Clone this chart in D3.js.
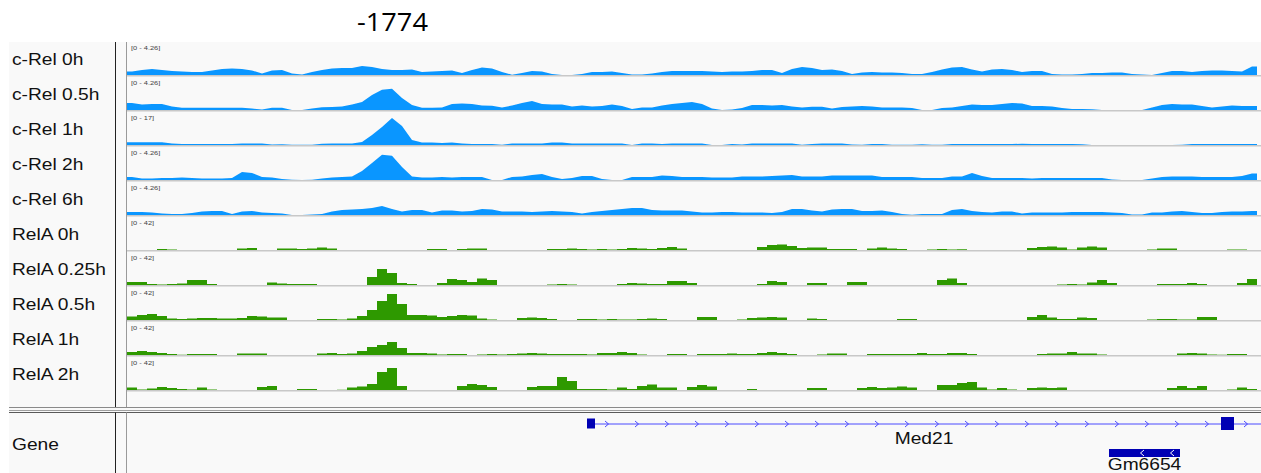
<!DOCTYPE html>
<html>
<head>
<meta charset="utf-8">
<script src="https://cdn.jsdelivr.net/npm/d3@7"></script>
<style>
  body { margin: 0; background: #fff; }
  svg { display: block; }
</style>
</head>
<body>
<div id="chart"></div>
<script>
// ---- data ----
const title = "-1774";
const trackNames = ["c-Rel 0h", "c-Rel 0.5h", "c-Rel 1h", "c-Rel 2h", "c-Rel 6h",
                    "RelA 0h", "RelA 0.25h", "RelA 0.5h", "RelA 1h", "RelA 2h"];
const trackRanges = [4.26, 4.26, 17, 4.26, 4.26, 42, 42, 42, 42, 42];
const trackFactor = ["c-Rel", "c-Rel", "c-Rel", "c-Rel", "c-Rel", "RelA", "RelA", "RelA", "RelA", "RelA"];

// coverage per genomic bin (113 bins across the view)
const cRel0h = [0.45,0.65,0.78,0.65,0.52,0.45,0.39,0.39,0.58,0.78,
  0.84,0.78,0.58,0.19,0.58,0.65,0.19,0.06,0.39,0.65,
  0.84,0.91,0.91,1.17,1.04,0.78,0.65,0.65,0.71,0.39,
  0.45,0.52,0.58,0.26,0.65,0.97,0.84,0.39,0.04,0.26,
  0.52,0.45,0.13,0,0,0.13,0.39,0.39,0.45,0.26,
  0.06,0.06,0.19,0.39,0.52,0.52,0.52,0.52,0.45,0.39,
  0.45,0.45,0.52,0.65,0.65,0.26,0.78,1.04,0.91,0.65,
  0.71,0.52,0.13,0.32,0.39,0.32,0.32,0.26,0.13,0.13,
  0.39,0.71,0.97,1.04,0.71,0.45,0.71,0.78,0.65,0.39,
  0.52,0.52,0.13,0.06,0.06,0.13,0.26,0.26,0.32,0.32,
  0.13,0.06,0,0.26,0.52,0.52,0.39,0.52,0.58,0.58,
  0.52,0.45,1.1];
const cRel05h = [0.91,0.72,0.78,0.78,0.45,0.3,0.3,0.3,0.3,0.3,
  0.3,0.3,0.2,0.06,0.3,0.3,0,0,0.2,0.35,
  0.39,0.45,0.72,1.04,1.95,2.6,2.73,1.56,0.65,0.3,
  0.3,0.32,0.78,0.85,0.78,0.58,0.56,0.32,0.58,0.91,
  1.17,0.78,0.72,0.72,0.45,0.58,0.45,0.52,0.72,0.52,
  0.13,0.32,0.32,0.58,0.78,0.91,1.04,0.78,0.2,0,
  0.06,0.26,0.65,0.65,0.58,0.65,0.45,0.32,0.43,0.43,
  0.2,0.39,0.45,0.52,0.45,0.32,0.32,0.32,0.26,0,
  0,0.26,0.32,0.52,0.72,0.65,0.65,0.78,0.91,0.85,
  0.52,0.52,0.45,0.26,0.13,0.13,0.09,0,0,0,
  0,0,0.32,0.65,0.78,0.72,0.72,0.52,0.32,0.45,
  0.58,0.52,0.52];
const cRel1h = [1.39,1.39,1.39,1.39,0.77,0.52,0.52,0.52,0.52,0.52,
  0.52,0.77,0.77,0.77,0.26,0.36,0.15,0.15,0.15,0.62,
  0.77,0.77,0.77,1.55,5.15,9.27,13.9,9.79,2.58,1.29,
  1.29,1.03,1.29,0.77,0.52,0.52,0.52,0.15,0.77,0.77,
  0.77,0.77,1.29,1.29,0.77,0.77,0.77,0.77,0.77,0.77,
  0,0.77,0.77,0.52,0.77,0.77,0.77,0.77,0,0,
  0.52,0.26,0.77,0.77,0.77,0.77,0.77,0.15,0.52,0.77,
  0.77,0.77,0.26,0.15,0.52,0.52,0.15,0.15,0.15,0.41,
  0.15,0.15,0.52,0.52,0.52,0.52,0.52,0.52,0.52,0.62,
  0.52,0.52,0.52,0.52,0.52,0.41,0,0,0,0,
  0,0,0,0,0,0.15,0.52,0.52,0.52,0.52,
  0.52,0.52,0.52];
const cRel2h = [0.39,0.2,0.2,0.26,0.26,0.32,0.26,0.2,0.2,0.2,
  0.26,1.04,0.91,0.39,0.32,0.13,0.04,0,0.04,0.2,
  0.32,0.39,0.45,1.17,2.21,3.25,3.12,1.69,0.45,0.32,
  0.32,0.39,0.32,0.39,0.39,0.39,0,0,0.39,0.45,
  0.65,0.78,0.39,0.13,0.26,0.52,0.52,0.13,0,0,
  0.39,0.39,0.39,0.58,0.52,0.39,0.39,0.39,0.32,0.32,
  0.32,0.45,0.45,0.45,0.52,0.58,0.65,0.45,0.45,0.45,
  0.58,0.58,0.58,0.58,0.58,0.39,0.39,0.39,0.39,0.26,
  0.26,0.26,0.45,0.45,0.91,0.52,0.26,0.26,0.26,0.26,
  0.2,0.26,0.26,0.26,0.26,0.26,0.26,0.26,0.06,0,
  0,0,0.2,0.39,0.45,0.45,0.45,0.39,0.39,0.39,
  0.39,0.52,0.85];
const cRel6h = [0.39,0.39,0.32,0.2,0.13,0.13,0.26,0.45,0.52,0.52,
  0.13,0.45,0.52,0.32,0.26,0.2,0,0,0.06,0.13,
  0.45,0.65,0.72,0.78,0.91,1.17,0.78,0.45,0.65,0.65,
  0.32,0.58,0.58,0.45,0.52,0.78,0.72,0.45,0.45,0.45,
  0.39,0.45,0.52,0.45,0.39,0.2,0.39,0.52,0.65,0.78,
  0.91,0.91,0.65,0.58,0.58,0.58,0.45,0.32,0.32,0.39,
  0.39,0.32,0.32,0.32,0.26,0.39,0.78,0.78,0.58,0.45,
  0.72,0.78,0.78,0.52,0.52,0.58,0.39,0.13,0.04,0.13,
  0.13,0.13,0.65,0.78,0.52,0.39,0.32,0.45,0.45,0.2,
  0.32,0.32,0.32,0.32,0.39,0.39,0.39,0.39,0.32,0.26,
  0.06,0.06,0.32,0.32,0.45,0.52,0.39,0.26,0.26,0.39,
  0.45,0.45,0.52];
const relA0h = [0,0,0,1.3,0.6,0,0,0,0,0,
  0,1.9,2.5,0,0,1.9,1.9,1.3,1.9,3.2,
  1.9,0,0,0,0,0,0,0,0,0,
  1.3,1.3,0,1.3,1.9,1.9,0,0,0,0,
  0,0,1.3,1.3,1.9,1.3,0.6,1.3,0.6,1.3,
  2.5,1.9,1.3,2.5,3.8,1.9,0,0,0,0,
  0,0,0,3.8,6.4,7,5.1,2.5,3.2,3.2,
  1.3,1.3,1.3,0,1.9,3.2,1.9,1.3,0,0,
  0.6,1.3,0.6,0.9,0,0,0,0,0,0,
  2.5,3.8,4.4,3.2,0.6,3.2,4.4,3.2,0,0,
  0,0,0.6,1.9,1.9,0,0,0,0,0,
  0.6,0.6,0];
const relA025h = [3.8,3.8,1.3,0.6,1.3,1.9,6.4,6.4,1.3,0,
  0,0,0,0,3.2,1.9,1.3,1.3,1.3,0,
  0,0,0,0,10.2,20.3,15.2,2.5,1.3,0,
  0,2.5,7.6,6.4,3.8,8.3,6.4,0,0,0,
  0,0,0.6,1.3,0.6,0,0,0,0,1.3,
  2.5,1.9,1.3,1.3,5.1,5.1,2.5,0,0,0,
  0,0,0,1.3,5.1,3.8,0,0,2.5,2.5,
  0,0,3.8,3.8,0,0,0,0,0,0,
  0,6.4,8.3,2.5,0,0,0,0,0,0,
  0,0,0,0.6,1.3,0.6,3.2,6.4,2.5,0,
  0,0,0,1.3,1.3,1.3,2.5,1.3,0,0,
  0,2.5,7.6];
const relA05h = [4.4,6.4,7.6,5.1,1.9,1.3,1.9,2.5,2.5,1.9,
  1.9,2.5,5.1,4.4,3.2,3.2,0,0,0,1.3,
  1.3,0.6,1.9,5.1,12.7,24.1,33,20.3,6.4,6.4,
  5.7,3.8,5.1,6.4,5.7,1.9,0.6,0,0,2.5,
  3.2,2.5,1.3,0,0,1.3,1.3,0.6,1.3,0.6,
  0.6,1.3,1.9,1.3,0,0,0,3.8,3.8,0,
  0,0.6,2.5,3.2,3.8,3.2,0,0,1.9,1.3,
  0,0,0,0,0,0,0,1.3,1.3,0,
  0,0,0,0,0,0,0,0,0,0,
  3.8,6.4,3.2,1.3,1.3,3.2,2.5,0,0,0,
  0,0,0.6,1.3,1.3,0.6,0.6,3.8,3.8,0,
  0,0,0];
const relA1h = [3.8,5.1,3.8,2.5,1.3,0.4,1.3,1.3,1.3,0,
  0,1.9,1.9,1.9,0,0,0,0,0,1.9,
  2.5,1.3,1.9,5.1,10.2,12.7,16.5,8.9,2.5,2.5,
  1.9,0.6,1.3,1.3,0,0.6,1.3,0.6,1.3,1.9,
  2.5,1.9,1.3,1.3,1.3,1.3,0.6,2.5,2.5,3.8,
  2.5,0.6,0,0,1.3,1.3,0,1.3,1.3,1.3,
  1.9,1.3,1.3,2.5,3.8,2.5,1.3,0,0,0.6,
  1.9,1.9,0,0,1.3,1.3,1.3,1.3,1.3,2.5,
  1.3,1.3,2.5,2.5,1.3,0,0,0,0,0,
  0,1.3,1.9,1.9,3.8,1.9,1.9,0.6,0,0,
  0,0,0,0,0,1.9,2.5,1.9,0.6,0.4,
  1.3,1.3,0];
const relA2h = [3.2,0.6,1.9,3.8,2.5,1.3,0.6,3.2,0.6,0,
  0,0,0,3.8,5.1,0,0,1.3,1.3,0,
  0,0.4,3.2,4.4,7.6,22.9,27.9,5.1,0,0,
  0,0,0,5.1,7.6,6.4,3.8,0,0,0,
  3.8,5.1,5.1,16.5,11.4,1.3,1.3,1.3,0.6,3.2,
  1.3,5.1,7,3.2,3.2,0,3.8,6.4,4.4,0,
  0,0,1.3,0,0,0,0,0,2.5,2.5,
  0,0,0,2.5,3.8,2.5,3.2,4.4,3.2,0,
  0,6.4,6.4,8.9,10.2,3.2,0.6,2.5,0.6,0,
  2.5,3.2,2.5,3.2,0,0,0,0,0,0,
  0,0,0,0,2.5,5.1,2.5,5.1,0,0,
  0.6,3.2,1.3];
const trackValues = [cRel0h, cRel05h, cRel1h, cRel2h, cRel6h,
                     relA0h, relA025h, relA05h, relA1h, relA2h];

// gene features, in the same bin coordinates
const genes = [
  { name: "Med21", start: 46.0, end: 116, strand: "+", row: 0,
    exons: [{ start: 46.0, end: 46.8, utr: true }, { start: 109.4, end: 110.7, utr: false }] },
  { name: "Gm6654", start: 98.2, end: 105.3, strand: "-", row: 1, exons: [] }
];

// ---- layout ----
const W = 1261, H = 473;
const panelLeft = 9, panelTop = 42;
const nameLineX = 115.5, dataLeft = 127, dataRight = 1257;
const trackH = 35, plotH = 33;
const nBins = cRel0h.length;
const colors = { "c-Rel": "#0a96ff", "RelA": "#2e9900" };
const labelFont = "'Liberation Sans', Arial, sans-serif";

const svg = d3.select("#chart").append("svg")
  .attr("width", W).attr("height", H);

svg.append("rect").attr("x", panelLeft).attr("y", panelTop)
  .attr("width", W - panelLeft).attr("height", H - panelTop).attr("fill", "#f9f9f9");

svg.append("text")
  .attr("x", 357).attr("y", 31)
  .attr("font-family", "'Open Sans', sans-serif").attr("font-size", 25)
  .attr("textLength", 71).attr("lengthAdjust", "spacingAndGlyphs")
  .attr("fill", "#000").text(title);

const x = d3.scaleLinear().domain([0, nBins]).range([dataLeft, dataRight]);

svg.append("defs").append("clipPath").attr("id", "dataClip")
  .append("rect").attr("x", dataLeft).attr("y", 0).attr("width", W - dataLeft).attr("height", H);

// helper for stretched label text
function label(g, tx, ty, size, txt, anchor, fill) {
  return g.append("text")
    .attr("transform", `translate(${tx},${ty}) scale(1.2,1)`)
    .attr("font-family", labelFont).attr("font-size", size)
    .attr("text-anchor", anchor || "start")
    .attr("fill", fill || "#111").text(txt);
}

const tracks = svg.append("g");
trackNames.forEach((name, i) => {
  const top = panelTop + i * trackH;
  const base = top + plotH;
  const y = d3.scaleLinear().domain([0, trackRanges[i]]).range([base, base - plotH]);
  const vals = trackValues[i];
  const g = tracks.append("g").attr("clip-path", "url(#dataClip)");

  g.append("line").attr("x1", dataLeft).attr("x2", W)
    .attr("y1", base + 0.75).attr("y2", base + 0.75)
    .attr("stroke", "#c8c8c8").attr("stroke-width", 1.5);

  let area;
  let pts;
  if (trackFactor[i] === "c-Rel") {
    pts = vals.map((v, k) => [k + 0.5, v]);
    pts.unshift([0, vals[0]]);
    pts.push([nBins, vals[nBins - 1]]);
    area = d3.area().x(d => x(d[0])).y0(base).y1(d => y(d[1])).curve(d3.curveLinear);
  } else {
    pts = vals.map((v, k) => [k, v]);
    pts.push([nBins, vals[nBins - 1]]);
    area = d3.area().x(d => x(d[0])).y0(base).y1(d => y(d[1])).curve(d3.curveStepAfter);
  }
  g.append("path").datum(pts).attr("d", area).attr("fill", colors[trackFactor[i]]);

  label(tracks, 131, top + 7.5, 6.2, `[0 - ${trackRanges[i]}]`, "start", "#444");
  label(tracks, 12, top + 22.5, 16, name);
});

// separators between data and gene sections
const sepY = [407.5, 410.5, 412.5];
const sepC = ["#8a8a8a", "#a0a0a0", "#5a5a5a"];
sepY.forEach((yy, k) => {
  svg.append("line").attr("x1", panelLeft).attr("x2", W).attr("y1", yy).attr("y2", yy)
    .attr("stroke", sepC[k]).attr("stroke-width", 1);
});
[[panelTop, 407], [412.5, H]].forEach(([a, b]) => {
  svg.append("line").attr("x1", nameLineX).attr("x2", nameLineX).attr("y1", a).attr("y2", b)
    .attr("stroke", "#222").attr("stroke-width", 1);
  svg.append("line").attr("x1", 126.5).attr("x2", 126.5).attr("y1", a).attr("y2", b)
    .attr("stroke", "#9a9a9a").attr("stroke-width", 1);
});

// gene track
label(svg, 12, 450, 16, "Gene");
const geneG = svg.append("g").attr("clip-path", "url(#dataClip)");
const lineColor = "#4a4aff", exonColor = "#0000b4";
genes.forEach(gn => {
  if (gn.row === 0) {
    const cy = 424;
    geneG.append("line").attr("x1", x(gn.start)).attr("x2", x(gn.end))
      .attr("y1", cy).attr("y2", cy).attr("stroke", lineColor).attr("stroke-width", 1);
    // chevrons along introns (between exons, and after the last exon)
    const introns = [];
    gn.exons.forEach((e, k) => {
      const next = k + 1 < gn.exons.length ? gn.exons[k + 1].start : gn.end;
      introns.push([e.end, next]);
    });
    introns.forEach(([s, t]) => {
      const a = x(s), b = Math.min(x(t), W + 10);
      for (let cx = a + 12; cx < b - 4; cx += 30) {
        geneG.append("path").attr("d", `M${cx - 2},${cy - 3} L${cx + 1.5},${cy} L${cx - 2},${cy + 3}`)
          .attr("fill", "none").attr("stroke", lineColor).attr("stroke-width", 1);
      }
    });
    gn.exons.forEach(e => {
      const h = e.utr ? 10 : 13;
      geneG.append("rect").attr("x", x(e.start)).attr("y", cy - h / 2 - 0.5)
        .attr("width", x(e.end) - x(e.start)).attr("height", h).attr("fill", exonColor);
    });
    const visEnd = Math.min(x(gn.end), W);
    label(svg, (x(gn.start) + visEnd) / 2, 444, 16, gn.name, "middle");
  } else {
    const cy = 453;
    const x0 = x(gn.start), x1 = x(gn.end);
    geneG.append("rect").attr("x", x0).attr("y", cy - 4).attr("width", x1 - x0).attr("height", 8)
      .attr("fill", exonColor);
    for (let cx = x1 - 8; cx > x0 + 4; cx -= 30) {
      geneG.append("path").attr("d", `M${cx + 2},${cy - 3} L${cx - 1.5},${cy} L${cx + 2},${cy + 3}`)
        .attr("fill", "none").attr("stroke", "#fff").attr("stroke-width", 1);
    }
    label(svg, (x0 + x1) / 2, 469.5, 16, gn.name, "middle");
  }
});
</script>
</body>
</html>
